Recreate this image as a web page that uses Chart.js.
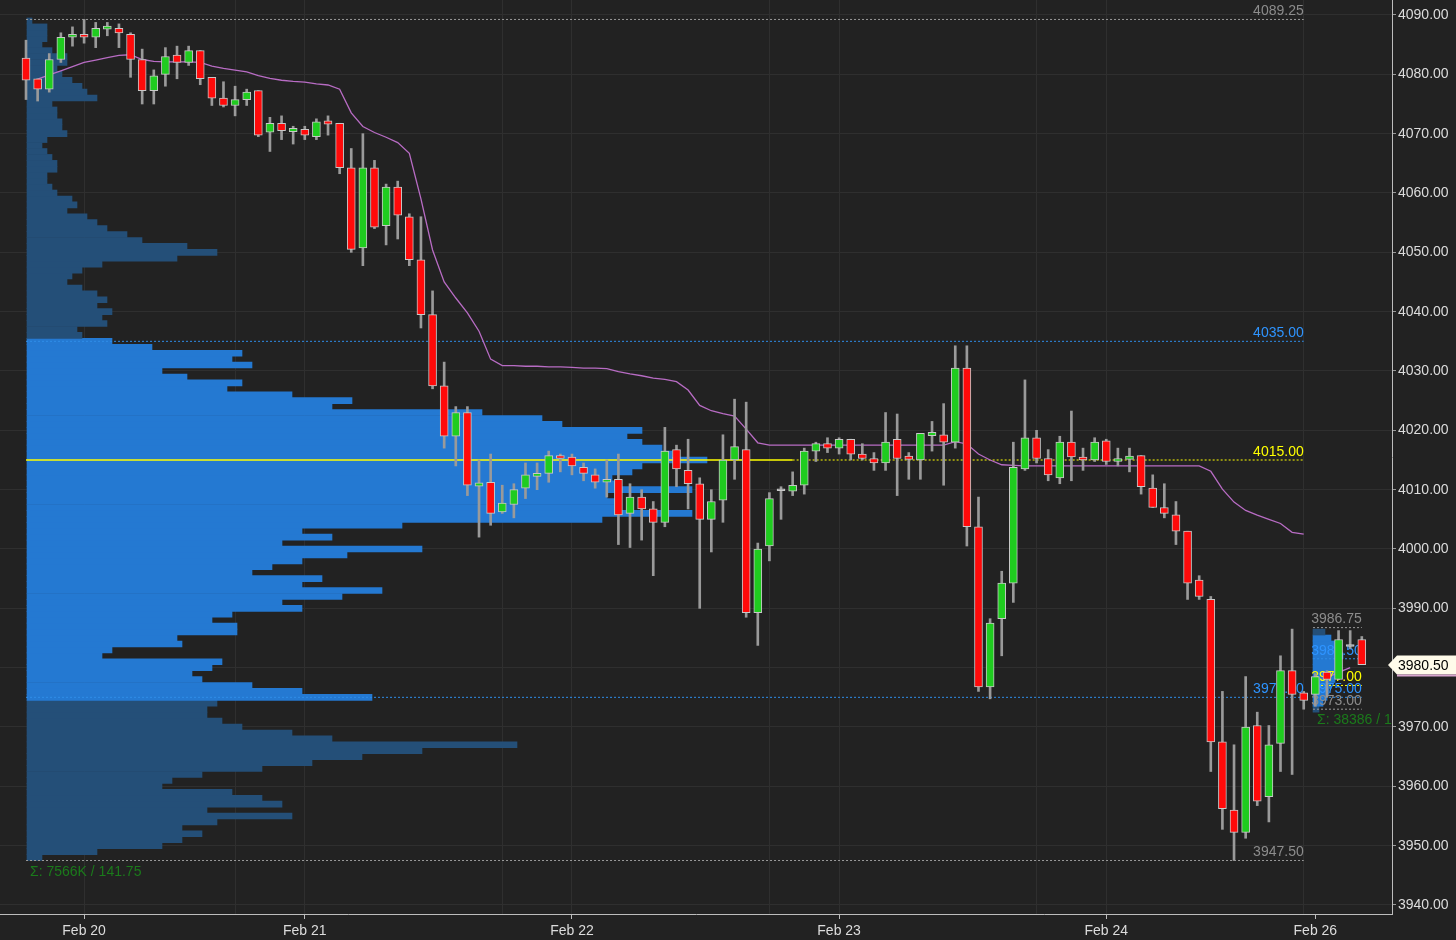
<!DOCTYPE html>
<html>
<head>
<meta charset="utf-8">
<title>ES 1h - volume profile</title>
<script src="https://cdn.jsdelivr.net/npm/chart.js@4.4.1/dist/chart.umd.min.js"></script>
<style>
  html, body { margin: 0; padding: 0; background: #222222; }
  #box { position: relative; width: 1456px; height: 940px; background: #222222; }
</style>
</head>
<body>
<div id="box"><canvas id="chart"></canvas></div>
<script>
// hourly candles, index 0 = first bar on screen
const openP = [
  4082.75, 4079.25, 4077.5, 4082.5, 4086.25, 4086.75, 4086.25, 4087.75, 4087.75, 4086.75,
  4082.5, 4077.25, 4080.0, 4083.25, 4082.0, 4084.0, 4079.5, 4076.0, 4074.75, 4075.75,
  4077.25, 4070.25, 4071.75, 4070.5, 4070.75, 4069.5, 4072.0, 4071.75, 4064.25, 4050.75,
  4064.25, 4054.5, 4061.0, 4056.0, 4048.75, 4039.5, 4027.5, 4019.0, 4023.0, 4010.75,
  4011.25, 4006.25, 4007.5, 4010.25, 4012.25, 4012.75, 4015.75, 4015.5, 4013.75, 4012.5,
  4011.25, 4011.75, 4006.0, 4008.75, 4006.75, 4004.5, 4016.75, 4013.25, 4011.0, 4005.0,
  4008.25, 4015.0, 4016.75, 3989.25, 4000.5, 4010.0, 4009.75, 4010.75, 4016.5, 4017.75,
  4017.0, 4018.5, 4016.0, 4015.25, 4014.5, 4018.5, 4015.5, 4015.0, 4019.25, 4019.25,
  4018.0, 4030.5, 4003.75, 3976.75, 3988.25, 3994.25, 4013.5, 4018.75, 4015.25, 4012.0,
  4018.0, 4015.5, 4015.0, 4018.25, 4014.75, 4015.25, 4015.75, 4010.25, 4007.0, 4005.75,
  4003.0, 3994.75, 3991.5, 3967.5, 3956.0, 3952.25, 3970.25, 3958.25, 3967.25, 3979.5,
  3975.75, 3975.5, 3979.25, 3978.0, 3983.75, 3984.75
];
const highP = [
  4085.75, 4079.25, 4083.5, 4087.0, 4088.0, 4089.25, 4088.75, 4088.75, 4088.5, 4087.0,
  4084.25, 4080.75, 4084.5, 4084.75, 4084.75, 4084.0, 4079.5, 4078.75, 4078.0, 4077.5,
  4077.25, 4072.75, 4073.0, 4071.25, 4071.25, 4072.5, 4073.0, 4071.75, 4067.5, 4070.0,
  4065.5, 4061.5, 4062.0, 4056.5, 4056.0, 4043.5, 4031.5, 4024.0, 4024.0, 4015.0,
  4016.0, 4010.75, 4011.0, 4014.5, 4014.5, 4016.5, 4016.0, 4016.0, 4014.5, 4013.5,
  4015.0, 4016.0, 4011.0, 4010.0, 4008.0, 4020.5, 4017.5, 4018.5, 4012.0, 4010.0,
  4019.25, 4025.25, 4024.75, 4001.0, 4009.5, 4010.5, 4013.0, 4017.0, 4018.0, 4018.75,
  4018.75, 4018.5, 4017.75, 4016.25, 4023.0, 4022.75, 4016.25, 4019.5, 4021.5, 4024.5,
  4034.25, 4034.25, 4008.75, 3988.25, 3996.25, 4018.0, 4028.5, 4020.0, 4016.75, 4019.0,
  4023.25, 4017.0, 4018.75, 4018.5, 4017.0, 4017.0, 4015.75, 4012.5, 4011.0, 4008.0,
  4003.0, 3995.5, 3992.0, 3976.0, 3967.0, 3978.5, 3972.5, 3970.25, 3982.0, 3986.5,
  3976.0, 3979.0, 3979.5, 3986.25, 3986.25, 3985.25
];
const lowP = [
  4075.75, 4075.5, 4077.0, 4082.0, 4084.75, 4085.25, 4084.5, 4086.5, 4084.5, 4079.5,
  4075.0, 4075.0, 4078.0, 4079.25, 4081.5, 4078.25, 4074.75, 4074.5, 4073.0, 4074.75,
  4069.5, 4067.0, 4069.0, 4068.25, 4069.0, 4069.0, 4069.75, 4063.25, 4050.0, 4047.75,
  4054.0, 4051.25, 4052.25, 4047.75, 4037.25, 4027.0, 4017.0, 4014.0, 4009.0, 4002.0,
  4004.0, 4006.0, 4005.25, 4008.5, 4010.0, 4011.25, 4013.0, 4012.5, 4011.5, 4010.25,
  4008.75, 4000.75, 4000.25, 4001.5, 3995.5, 4003.75, 4010.5, 4006.75, 3990.0, 3999.5,
  4004.5, 4011.75, 3988.5, 3983.75, 3998.0, 4005.0, 4009.0, 4009.25, 4014.75, 4016.25,
  4016.0, 4015.0, 4015.0, 4013.25, 4013.25, 4009.0, 4011.75, 4011.75, 4016.5, 4010.75,
  4017.0, 4000.5, 3976.0, 3974.75, 3982.0, 3991.0, 4013.25, 4014.5, 4011.5, 4011.0,
  4011.5, 4013.25, 4014.75, 4014.25, 4014.0, 4013.0, 4009.25, 4007.0, 4005.25, 4000.75,
  3991.5, 3991.5, 3962.5, 3952.75, 3947.5, 3951.25, 3956.75, 3954.0, 3962.5, 3962.0,
  3973.0, 3973.5, 3975.0, 3978.0, 3983.25, 3980.5
];
const closeP = [
  4079.0, 4077.5, 4082.5, 4086.25, 4086.75, 4086.25, 4087.75, 4088.0, 4087.0, 4082.5,
  4077.25, 4079.75, 4083.0, 4082.0, 4084.0, 4079.25, 4076.0, 4074.75, 4075.75, 4077.0,
  4069.75, 4071.75, 4070.5, 4070.75, 4069.75, 4072.0, 4071.75, 4064.25, 4050.5, 4064.25,
  4054.25, 4061.0, 4056.25, 4048.75, 4039.5, 4027.5, 4019.0, 4023.0, 4010.75, 4011.0,
  4006.0, 4007.75, 4010.0, 4012.5, 4012.75, 4015.75, 4015.25, 4014.0, 4012.75, 4011.25,
  4011.75, 4005.75, 4008.75, 4006.75, 4004.5, 4016.5, 4013.5, 4011.0, 4005.0, 4008.0,
  4015.0, 4017.25, 3989.25, 4000.0, 4008.5, 4010.0, 4010.75, 4016.5, 4017.75, 4017.0,
  4018.5, 4016.0, 4015.25, 4014.5, 4018.0, 4015.25, 4015.25, 4019.5, 4019.5, 4018.0,
  4030.5, 4003.75, 3976.75, 3987.5, 3994.25, 4013.75, 4018.75, 4015.25, 4012.5, 4018.0,
  4015.5, 4015.0, 4018.0, 4014.75, 4015.25, 4015.5, 4010.5, 4007.0, 4006.0, 4003.0,
  3994.25, 3992.0, 3967.5, 3956.25, 3952.25, 3970.0, 3957.5, 3967.0, 3979.5, 3975.5,
  3974.5, 3978.5, 3978.0, 3984.75, 3983.75, 3980.5
];

// moving average (null = not drawn)
const smaP = [
  null, 4079.2, 4079.9, 4080.6, 4081.3, 4082.0, 4082.4, 4082.8, 4083.2, 4083.3,
  4082.5, 4082.2, 4082.1, 4082.1, 4082.1, 4082.0, 4081.4, 4081.0, 4080.7, 4080.4,
  4079.8, 4079.3, 4079.0, 4078.8, 4078.7, 4078.4, 4078.2, 4077.5, 4073.5, 4071.2,
  4070.2, 4069.4, 4068.5, 4066.7, 4059.0, 4050.4, 4045.0, 4042.3, 4039.8, 4036.7,
  4032.0, 4030.9, 4030.9, 4030.8, 4030.8, 4030.7, 4030.7, 4030.6, 4030.5, 4030.5,
  4030.4, 4029.9, 4029.5, 4029.2, 4028.8, 4028.6, 4028.2, 4026.8, 4024.2, 4023.3,
  4022.8, 4022.4, 4020.2, 4017.9, 4017.5, 4017.5, 4017.5, 4017.5, 4017.5, 4017.5,
  4017.5, 4017.5, 4017.5, 4017.5, 4017.5, 4017.5, 4017.5, 4017.5, 4017.5, 4017.5,
  4018.1, 4017.7, 4016.0, 4015.0, 4014.2, 4014.1, 4014.0, 4014.0, 4014.0, 4014.0,
  4014.0, 4014.0, 4014.0, 4014.0, 4014.0, 4014.0, 4014.0, 4014.0, 4014.0, 4014.0,
  4014.0, 4014.0, 4013.1, 4010.1, 4007.9, 4006.5, 4005.7, 4005.0, 4004.3, 4002.8,
  4002.5, null, 3978.3, 3979.2, 3980.0, null
];

// x axis: date labels at bar index, extra session grid lines
const dayLabels = ['Feb 20', 'Feb 21', 'Feb 22', 'Feb 23', 'Feb 24', 'Feb 26'];
const dayIdx = [5, 24, 47, 70, 93, 111];
const gridIdx = [5, 18, 24, 41, 47, 64, 70, 87, 93, 110];
const yTicks = [3940, 3950, 3960, 3970, 3980, 3990, 4000, 4010, 4020, 4030, 4040, 4050, 4060, 4070, 4080, 4090];

// composite volume profile, 1 pt rows from vpLow upward, volume in K
const vpLow = 3948;
const vpVol = [
  3, 14, 27, 31, 35, 31, 38, 53, 36, 51,
  47, 41, 27, 29, 35, 47, 57, 67, 79, 98,
  61, 53, 43, 39, 36, 36, 38, 69, 55, 45,
  35, 33, 37, 39, 15, 17, 31, 30, 42, 42,
  37, 41, 55, 51, 63, 71, 55, 59, 45, 49,
  55, 64, 79, 51, 61, 55, 75, 115, 133, 118,
  118, 116, 133, 118, 117, 121, 123, 136, 129, 127,
  123, 120, 123, 107, 103, 91, 61, 65, 53, 40,
  43, 32, 27, 45, 41, 43, 25, 17, 11, 10,
  16, 15, 17, 14, 16, 14, 11, 8, 9, 11,
  15, 30, 38, 32, 23, 20, 16, 14, 12, 8,
  10, 9, 6, 5, 4, 4, 6, 6, 5, 4,
  3, 4, 8, 7, 7, 6, 6, 5, 14, 12,
  11, 9, 7, 6, 8, 8, 5, 3, 4, 4,
  4, 1
];
const vaLow = 3975, vaHigh = 4035;
const mainLevels = [4089.25, 4035.00, 4015.00, 3975.00, 3947.50];
const mainKinds = ['ext', 'va', 'poc', 'va', 'ext'];
const mainTotalK = 7566;

// sunday session profile (contracts per 1 pt row)
const sunVpLow = 3973;
const sunVol = [840, 1400, 1960, 2240, 2520, 3080, 3360, 3640, 3920, 4200, 3640, 3080, 2520, 1680];
const sunLevels = [3986.75, 3981.50, 3977.00, 3975.00, 3973.00];
const sunKinds = ['ext', 'va', 'poc', 'va', 'ext'];
const sunTotal = 38386;

// level line spans in bar-index units
const mainSpan = [0, 110];
const pocSolidEnd = 66;
const sunSpan = [110.8, 115];

const C = {
  grid: '#2f2f2f', axis: '#bdbdbd', text: '#dcdcdc',
  up: '#1fcc1f', down: '#ff0a0a', doji: '#b4b4b4', wick: '#9a9a9a', outline: '#c8c8c8',
  vaFill: '#2479d2', vpFill: '#244f78', sma: '#b86cc4', sigma: '#1b7a1b',
  line: { ext: '#9a9a9a', va: '#2f8de8', poc: '#ffff00' },
  label: { ext: '#8c8c8c', va: '#2e94ff', poc: '#ffff00' }
};
const FONT = '"Liberation Sans", Arial, Helvetica, sans-serif';
Chart.defaults.font.family = FONT;

const lastPrice = closeP[closeP.length - 1];

const wicks = lowP.map((l, i) => ({ x: i, y: [l, highP[i]] }));
const bodies = openP.map((o, i) => {
  const c = closeP[i];
  let lo = Math.min(o, c), hi = Math.max(o, c);
  if (hi - lo < 0.3) { lo -= 0.15; hi += 0.15; } // keep doji visible
  return { x: i, y: [lo, hi] };
});
const bodyColors = openP.map((o, i) => closeP[i] > o ? C.up : (closeP[i] < o ? C.down : C.doji));

const inVA = p => p >= vaLow && p <= vaHigh;

function levelLine(v, kind, from, to, solid) {
  return {
    type: 'line', label: 'level', order: 8,
    data: [{ x: from, y: v }, { x: to, y: v }],
    borderColor: C.line[kind], borderWidth: solid ? 1.5 : 1,
    borderDash: solid ? [] : [2, 2], pointRadius: 0,
    xAxisID: 'x', yAxisID: 'y'
  };
}
const levelSets = [];
mainLevels.forEach((v, k) => {
  if (mainKinds[k] === 'poc') {
    levelSets.push(levelLine(v, 'poc', mainSpan[0], pocSolidEnd, true));
    levelSets.push(levelLine(v, 'poc', pocSolidEnd, mainSpan[1], false));
  } else {
    levelSets.push(levelLine(v, mainKinds[k], mainSpan[0], mainSpan[1], false));
  }
});
sunLevels.forEach((v, k) => levelSets.push(levelLine(v, sunKinds[k], sunSpan[0], sunSpan[1], false)));

// texts drawn under the candles (labels get covered by bars like in the original)
const overlay = {
  id: 'overlay',
  beforeDatasetDraw(chart, args) {
    if (chart.data.datasets[args.index].label !== 'wicks') return;
    const { ctx, chartArea: a, scales: { x, y } } = chart;
    ctx.save();
    ctx.beginPath();
    ctx.rect(a.left, a.top, a.width, a.height);
    ctx.clip();
    ctx.font = '14px ' + FONT;
    ctx.textBaseline = 'middle';
    ctx.textAlign = 'right';
    mainLevels.forEach((v, k) => {
      ctx.fillStyle = C.label[mainKinds[k]];
      ctx.fillText(v.toFixed(2), x.getPixelForValue(mainSpan[1]), y.getPixelForValue(v) - 8);
    });
    sunLevels.forEach((v, k) => {
      ctx.fillStyle = C.label[sunKinds[k]];
      ctx.fillText(v.toFixed(2), x.getPixelForValue(sunSpan[1]), y.getPixelForValue(v) - 8);
    });
    ctx.textAlign = 'left';
    ctx.fillStyle = C.sigma;
    const mainRange = mainLevels[0] - mainLevels[mainLevels.length - 1];
    ctx.fillText('Σ: ' + mainTotalK + 'K / ' + mainRange.toFixed(2),
      x.getPixelForValue(mainSpan[0]) + 4, y.getPixelForValue(mainLevels[mainLevels.length - 1]) + 12);
    const sunRange = sunLevels[0] - sunLevels[sunLevels.length - 1];
    ctx.fillText('Σ: ' + sunTotal + ' / ' + sunRange.toFixed(2),
      x.getPixelForValue(sunSpan[0]) + 4, y.getPixelForValue(sunLevels[sunLevels.length - 1]) + 11);
    ctx.restore();
  },
  afterDraw(chart) {
    // last price tag on the axis
    const { ctx, chartArea: a, scales: { y } } = chart;
    const py = Math.round(y.getPixelForValue(lastPrice));
    const x0 = a.right - 4, w = chart.width;
    ctx.save();
    ctx.fillStyle = '#fffbea';
    ctx.beginPath();
    ctx.moveTo(x0, py);
    ctx.lineTo(x0 + 9, py - 9.5);
    ctx.lineTo(w, py - 9.5);
    ctx.lineTo(w, py + 9.5);
    ctx.lineTo(x0 + 9, py + 9.5);
    ctx.closePath();
    ctx.fill();
    ctx.fillStyle = '#d9a6cf';
    ctx.fillRect(x0 + 9, py + 9.5, w - x0 - 9, 2);
    ctx.fillStyle = '#000000';
    ctx.font = '14px ' + FONT;
    ctx.textBaseline = 'middle';
    ctx.textAlign = 'left';
    ctx.fillText(lastPrice.toFixed(2), a.right + 6, py + 1);
    ctx.restore();
  }
};

const hidden = (min, max) => ({
  type: 'linear', display: false, min, max, bounds: 'data',
  beginAtZero: false, offset: false, grid: { offset: false }
});

new Chart(document.getElementById('chart'), {
  type: 'bar',
  data: {
    datasets: [
      {
        label: 'profile', order: 10, indexAxis: 'y', grouped: false,
        xAxisID: 'xv', yAxisID: 'yv',
        data: vpVol.map((v, k) => ({ x: v, y: vpLow + k })),
        backgroundColor: vpVol.map((v, k) => inVA(vpLow + k) ? C.vaFill : C.vpFill),
        categoryPercentage: 1, barPercentage: 1, borderWidth: 0
      },
      {
        label: 'sunProfile', order: 9, indexAxis: 'y', grouped: false,
        xAxisID: 'xv2', yAxisID: 'yv',
        data: sunVol.map((v, k) => ({ x: v, y: sunVpLow + k })),
        backgroundColor: sunVol.map((v, k) => (k === 0 || k === sunVol.length - 1) ? C.vpFill : C.vaFill),
        categoryPercentage: 1, barPercentage: 1, borderWidth: 0
      },
      ...levelSets,
      {
        type: 'line', label: 'sma', order: 7,
        data: smaP.map((v, i) => ({ x: i, y: v })),
        borderColor: C.sma, borderWidth: 1.3, pointRadius: 0, spanGaps: false,
        xAxisID: 'x', yAxisID: 'y'
      },
      {
        label: 'wicks', order: 2, grouped: false, xAxisID: 'x', yAxisID: 'y',
        data: wicks, backgroundColor: C.wick, borderWidth: 0,
        categoryPercentage: 1, barPercentage: 1, maxBarThickness: 2
      },
      {
        label: 'bodies', order: 1, grouped: false, xAxisID: 'x', yAxisID: 'y',
        data: bodies, backgroundColor: bodyColors,
        borderColor: C.outline, borderWidth: 1, borderSkipped: false,
        categoryPercentage: 1, barPercentage: 1, maxBarThickness: 8
      }
    ]
  },
  options: {
    responsive: true,
    maintainAspectRatio: false,
    animation: false,
    layout: { padding: 0 },
    plugins: { legend: { display: false }, tooltip: { enabled: false } },
    scales: {
      x: {
        type: 'linear', position: 'bottom', min: -2.24, max: 117.6, bounds: 'data', offset: false,
        afterBuildTicks: s => { s.ticks = [...new Set([...gridIdx, ...dayIdx])].sort((a, b) => a - b).map(v => ({ value: v })); },
        afterFit: s => { s.height = 26; s.paddingLeft = 0; s.paddingRight = 0; },
        ticks: {
          autoSkip: false, maxRotation: 0, color: C.text, font: { size: 14 }, padding: 4,
          callback: v => { const k = dayIdx.indexOf(v); return k >= 0 ? dayLabels[k] : ''; }
        },
        grid: {
          offset: false, tickLength: 5,
          color: c => (c.tick && gridIdx.includes(c.tick.value)) ? C.grid : 'rgba(0,0,0,0)',
          tickColor: c => (c.tick && dayIdx.includes(c.tick.value)) ? C.axis : 'rgba(0,0,0,0)'
        },
        border: { color: C.axis, width: 1 }
      },
      y: {
        type: 'linear', position: 'right', min: 3938.483, max: 4092.528, bounds: 'data',
        beginAtZero: false, offset: false,
        afterBuildTicks: s => { s.ticks = yTicks.map(v => ({ value: v })); },
        afterFit: s => { s.width = 64; s.paddingTop = 0; s.paddingBottom = 0; },
        ticks: { color: C.text, font: { size: 14 }, padding: 2, callback: v => v.toFixed(2) },
        grid: { offset: false, color: C.grid, tickColor: '#9a9a9a', tickLength: 4 },
        border: { color: C.axis, width: 1 }
      },
      yv: hidden(3938.483, 4092.528),
      xv: hidden(-5.4, 273),
      xv2: hidden(-183820, 11060)
    }
  },
  plugins: [overlay]
});
</script>
</body>
</html>
